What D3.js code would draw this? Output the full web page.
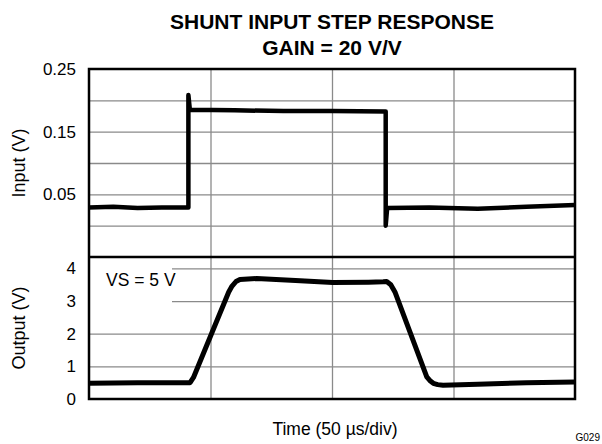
<!DOCTYPE html>
<html>
<head>
<meta charset="utf-8">
<script src="https://cdn.jsdelivr.net/npm/d3@7"></script>
<style>
  html, body { margin: 0; padding: 0; background: #fff; }
  svg { display: block; font-family: "Liberation Sans", Arial, Helvetica, sans-serif; }
</style>
</head>
<body>
<svg id="chart" width="602" height="444"></svg>
<script>
// ---- Data (time in µs, 50 µs/div) ----
const inputTime  = [0, 10, 20, 30, 40.8, 40.9, 40.9, 41.5, 60, 80, 100, 122.0, 122.1, 122.1, 122.7, 140, 160, 180, 200];
const inputVolts = [0.029, 0.030, 0.028, 0.029, 0.029, 0.029, 0.2085, 0.185, 0.184, 0.183, 0.183, 0.182, 0.182, 0.0, 0.028, 0.029, 0.027, 0.030, 0.033];

const outputTime  = [0, 20, 41.6, 43, 50.2, 57.5, 58.7, 60.5, 62.1, 69, 85, 100.3, 115, 121.1, 122.5, 124.2, 125.9, 139, 140.5, 141.7, 143.5, 145.7, 160, 180, 200];
const outputVolts = [0.48, 0.50, 0.50, 0.66, 1.96, 3.28, 3.44, 3.60, 3.66, 3.69, 3.63, 3.57, 3.58, 3.59, 3.60, 3.50, 3.28, 0.68, 0.55, 0.48, 0.44, 0.42, 0.45, 0.50, 0.52];

const timeGrid      = [50, 100, 150];
const inputGrid     = [0.20, 0.15, 0.10, 0.05, 0.00];
const inputTicks    = [0.25, 0.15, 0.05];
const inputTickText = ["0.25", "0.15", "0.05"];
const outputGrid    = [1, 2, 3, 4];
const outputTicks   = [0, 1, 2, 3, 4];

const titleLines = ["SHUNT INPUT STEP RESPONSE", "GAIN = 20 V/V"];
const inputLabel = "Input (V)";
const outputLabel = "Output (V)";
const xLabel = "Time (50 \u00B5s/div)";
const noteText = "VS = 5 V";
const figId = "G029";

// ---- Layout ----
const L = 89, R = 575, T = 69, MID = 257, B = 399;
const svg = d3.select("#chart");

const x = d3.scaleLinear().domain([0, 200]).range([L, R]);
const yIn = d3.scaleLinear().domain([-0.05, 0.25]).range([MID, T]);
const yOut = d3.scaleLinear().domain([0, 4.35]).range([B, MID]);

const gridColor = "#8a8a8a";

// vertical grid (both panels)
svg.append("g")
  .attr("transform", `translate(0,${B})`)
  .call(d3.axisBottom(x).tickValues(timeGrid).tickSize(-(B - T)).tickFormat(""))
  .call(g => g.select(".domain").remove())
  .call(g => g.selectAll("line").attr("stroke", gridColor).attr("stroke-width", 1.3));

// horizontal grid top
svg.append("g")
  .attr("transform", `translate(${L},0)`)
  .call(d3.axisLeft(yIn).tickValues(inputGrid).tickSize(-(R - L)).tickFormat(""))
  .call(g => g.select(".domain").remove())
  .call(g => g.selectAll("line").attr("stroke", gridColor).attr("stroke-width", 1.3));

// horizontal grid bottom
svg.append("g")
  .attr("transform", `translate(${L},0)`)
  .call(d3.axisLeft(yOut).tickValues(outputGrid).tickSize(-(R - L)).tickFormat(""))
  .call(g => g.select(".domain").remove())
  .call(g => g.selectAll("line").attr("stroke", gridColor).attr("stroke-width", 1.3));

// white box behind note
svg.append("rect")
  .attr("x", L).attr("y", MID).attr("width", 172 - L).attr("height", 303 - MID)
  .attr("fill", "#fff");

// tick labels
svg.append("g")
  .attr("transform", `translate(${L},0)`)
  .call(d3.axisLeft(yIn).tickValues(inputTicks).tickSize(0).tickPadding(13)
        .tickFormat((d, i) => inputTickText[i]))
  .call(g => g.select(".domain").remove())
  .call(g => g.selectAll("text").attr("font-size", 17).attr("fill", "#000")
        .attr("font-family", "'Liberation Sans', Arial, sans-serif"));

svg.append("g")
  .attr("transform", `translate(${L},0)`)
  .call(d3.axisLeft(yOut).tickValues(outputTicks).tickSize(0).tickPadding(13)
        .tickFormat(d3.format("d")))
  .call(g => g.select(".domain").remove())
  .call(g => g.selectAll("text").attr("font-size", 17).attr("fill", "#000")
        .attr("font-family", "'Liberation Sans', Arial, sans-serif"));

// traces
const inData = inputTime.map((t, i) => [t, inputVolts[i]]);
const outData = outputTime.map((t, i) => [t, outputVolts[i]]);

svg.append("path")
  .datum(inData)
  .attr("fill", "none").attr("stroke", "#000").attr("stroke-width", 4.5)
  .attr("stroke-linejoin", "round")
  .attr("d", d3.line().x(d => x(d[0])).y(d => yIn(d[1])));

svg.append("path")
  .datum(outData)
  .attr("fill", "none").attr("stroke", "#000").attr("stroke-width", 5)
  .attr("stroke-linejoin", "round")
  .attr("d", d3.line().x(d => x(d[0])).y(d => yOut(d[1])));

// frame + divider
svg.append("rect")
  .attr("x", L).attr("y", T).attr("width", R - L).attr("height", B - T)
  .attr("fill", "none").attr("stroke", "#000").attr("stroke-width", 2.5);
svg.append("line")
  .attr("x1", L).attr("x2", R).attr("y1", MID).attr("y2", MID)
  .attr("stroke", "#000").attr("stroke-width", 2.5);

// note
svg.append("text").attr("x", 106).attr("y", 286)
  .attr("font-size", 17.5).text(noteText);

// titles
svg.selectAll("text.title").data(titleLines).enter().append("text")
  .attr("class", "title")
  .attr("x", (L + R) / 2).attr("y", (d, i) => 29 + i * 26)
  .attr("text-anchor", "middle").attr("font-size", 21).attr("font-weight", "bold")
  .text(d => d);

// axis titles
svg.append("text")
  .attr("transform", `translate(25,${(T + MID) / 2}) rotate(-90)`)
  .attr("text-anchor", "middle").attr("font-size", 18).text(inputLabel);
svg.append("text")
  .attr("transform", `translate(25,${(MID + B) / 2}) rotate(-90)`)
  .attr("text-anchor", "middle").attr("font-size", 18).text(outputLabel);

svg.append("text").attr("x", 335).attr("y", 435)
  .attr("text-anchor", "middle").attr("font-size", 17.5).text(xLabel);

svg.append("text").attr("x", 600).attr("y", 441)
  .attr("text-anchor", "end").attr("font-size", 10).text(figId);
</script>
</body>
</html>
